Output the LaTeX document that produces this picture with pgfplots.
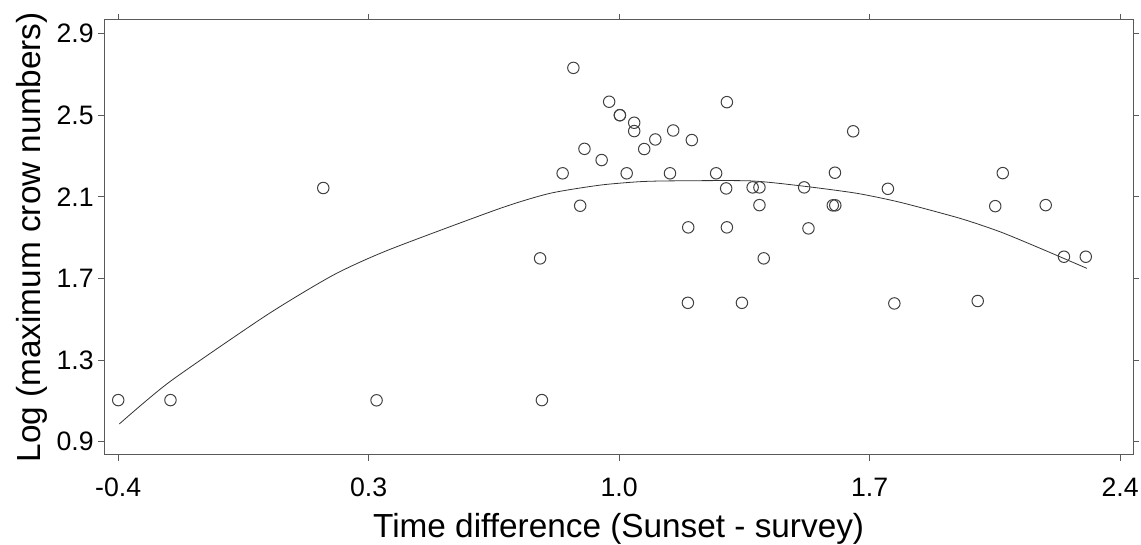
\documentclass[border=0pt]{standalone}
\usepackage{pgfplots}
\pgfplotsset{compat=1.18}
\usepackage{fontspec}
\setmainfont{Liberation Sans}
\pgfplotstableread{
x y
-0.400 1.104
-0.254 1.104
0.173 2.144
0.322 1.103
0.779 1.799
0.784 1.104
0.842 2.216
0.872 2.733
0.891 2.057
0.903 2.336
0.951 2.281
0.972 2.567
1.002 2.501
1.002 2.501
1.021 2.216
1.042 2.464
1.042 2.423
1.070 2.335
1.101 2.382
1.142 2.216
1.151 2.426
1.192 1.581
1.193 1.951
1.203 2.379
1.271 2.216
1.301 2.565
1.299 2.142
1.301 1.951
1.343 1.581
1.373 2.147
1.392 2.147
1.392 2.060
1.404 1.799
1.517 2.147
1.529 1.946
1.597 2.059
1.604 2.059
1.603 2.219
1.654 2.422
1.751 2.140
1.769 1.578
2.002 1.590
2.051 2.055
2.072 2.217
2.192 2.060
2.243 1.807
2.304 1.807
}\points
\pgfplotstableread{
x y
-0.397 0.987
-0.256 1.194
0.015 1.521
0.201 1.717
0.355 1.840
0.667 2.044
0.807 2.118
0.946 2.158
1.058 2.175
1.151 2.179
1.366 2.179
1.515 2.153
1.664 2.118
1.785 2.074
1.953 1.995
2.065 1.929
2.177 1.848
2.307 1.750
}\curve
\begin{document}
\begin{tikzpicture}
\useasboundingbox (-78.2pt,-67pt) rectangle (777.5pt,341.05pt);
\begin{axis}[
  at={(0pt,0pt)}, anchor=south west,
  scale only axis, width=771.5pt, height=326.25pt,
  xmin=-0.439, xmax=2.436, ymin=0.836, ymax=2.969,
  xtick={-0.4,0.3,1.0,1.7,2.4}, ytick={0.9,1.3,1.7,2.1,2.5,2.9},
  tick align=outside, major tick length=4.5pt,
  tick style={black!65, line width=0.75pt},
  axis line style={black!65, line width=0.75pt},
  /pgf/number format/assume math mode=true,
  xticklabel={\pgfmathprintnumber[fixed,fixed zerofill,precision=1]{\tick}},
  yticklabel={\pgfmathprintnumber[fixed,fixed zerofill,precision=1]{\tick}},
  ticklabel style={font=\fontsize{20}{23}\selectfont, inner sep=0pt},
  xticklabel style={anchor=base, yshift=-26.5pt},
  yticklabel style={anchor=east, xshift=-3.2pt},
  label style={font=\fontsize{25}{29}\selectfont, inner sep=0pt},
  xlabel={Time difference (Sunset - survey)},
  ylabel={Log (maximum crow numbers)},
  xlabel style={at={(axis description cs:0.5,-0.1891)}, anchor=base},
  ylabel style={at={(axis description cs:-0.0618,0.5)}, anchor=base},
]
\addplot[black!80, line width=0.6pt, smooth, tension=0.4] table {\curve};
\addplot[only marks, mark=o, mark size=4.3pt, mark options={black!75, line width=0.75pt}] table {\points};
\end{axis}
\end{tikzpicture}
\end{document}
